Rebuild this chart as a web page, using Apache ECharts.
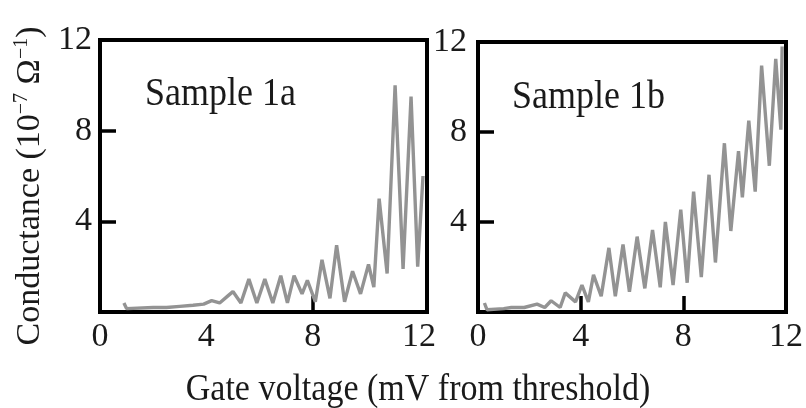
<!DOCTYPE html>
<html>
<head>
<meta charset="utf-8">
<script src="https://cdn.jsdelivr.net/npm/echarts@6/dist/echarts.min.js"></script>
<style>html,body{margin:0;padding:0;background:#fff}#c{width:806px;height:408px}</style>
</head>
<body>
<div id="c"></div>
<script>
// Sample 1a: gate voltage (mV), conductance (1e-7 S)
var gateA = [0.9,1.0,2.0,2.5,3.0,3.5,3.9,4.2,4.5,4.8,5.0,5.3,5.6,5.9,6.2,6.5,6.8,7.05,7.3,7.6,7.8,8.1,8.35,8.65,8.9,9.2,9.5,9.8,10.1,10.3,10.5,10.8,11.1,11.4,11.7,11.95,12.15];
var condA = [0.4,0.15,0.2,0.2,0.25,0.3,0.35,0.5,0.4,0.7,0.9,0.4,1.45,0.4,1.45,0.4,1.6,0.4,1.6,0.8,1.4,0.45,2.3,0.6,2.95,0.45,1.8,0.8,2.1,1.1,5.0,1.7,10.0,1.9,9.5,2.0,6.0];
// Sample 1b
var gateB = [0.25,0.35,1.0,1.3,1.8,2.3,2.6,2.85,3.2,3.4,3.8,4.05,4.3,4.5,4.8,5.1,5.35,5.65,5.9,6.2,6.5,6.8,7.1,7.3,7.6,7.9,8.15,8.4,8.7,9.0,9.25,9.6,9.85,10.15,10.3,10.55,10.8,11.05,11.35,11.6,11.8,11.85];
var condB = [0.4,0.1,0.15,0.2,0.2,0.35,0.2,0.5,0.2,0.85,0.45,1.2,0.45,1.65,0.7,2.85,0.7,3.0,0.9,3.35,1.05,3.65,1.1,4.0,1.2,4.55,1.3,5.35,1.55,6.1,2.2,7.5,3.6,7.15,5.1,8.5,5.35,10.95,6.5,11.25,8.1,11.8];
var xTickLabels = [0,4,8,12];
var yTickLabels = [4,8,12];
var labelA = 'Sample 1a';
var labelB = 'Sample 1b';
var xTitle = 'Gate voltage (mV from threshold)';

function pairs(xs, ys){ return xs.map(function(x,i){return [x, ys[i]];}); }

var FONT = 'Liberation Serif';
var TXT = '#1a1a1a';
var chart = echarts.init(document.getElementById('c'), null, {renderer:'canvas'});

function xAx(idx, max, step){
  return {
    gridIndex: idx, type: 'value', min: 0, max: max, interval: step,
    axisLine: {show:true, onZero:false, lineStyle:{color:'#000', width:4}},
    splitLine: {show:false},
    axisTick: {show:true, inside:true, length:16, lineStyle:{color:'#000', width:3.5}},
    axisLabel: {customValues: xTickLabels, fontFamily: FONT, fontSize: 34, color: TXT, margin: 8}
  };
}
function yAx(idx, margin){
  return {
    gridIndex: idx, type: 'value', min: 0, max: 12, interval: 4,
    axisLine: {show:true, onZero:false, lineStyle:{color:'#000', width:4}},
    splitLine: {show:false},
    axisTick: {show:true, inside:true, length:16, lineStyle:{color:'#000', width:3.5}},
    axisLabel: {customValues: yTickLabels, fontFamily: FONT, fontSize: 34, color: TXT, margin: margin}
  };
}

chart.setOption({
  backgroundColor: '#fff',
  animation: false,
  grid: [
    {left: 100, top: 40, width: 327, height: 272, show: true, borderColor: '#000', borderWidth: 4, backgroundColor: 'transparent'},
    {left: 478, top: 42, width: 312, height: 270, show: true, borderColor: '#000', borderWidth: 4, backgroundColor: 'transparent'}
  ],
  xAxis: [xAx(0, 12.3, 8), xAx(1, 12, 4)],
  yAxis: [yAx(0, 8), yAx(1, 11)],
  series: [
    {type:'line', xAxisIndex:0, yAxisIndex:0, data: pairs(gateA, condA), showSymbol:false, lineStyle:{color:'#939393', width:3.4}},
    {type:'line', xAxisIndex:1, yAxisIndex:1, data: pairs(gateB, condB), showSymbol:false, lineStyle:{color:'#939393', width:3.4}}
  ],
  graphic: [
    {type:'text', x: 145, y: 95, scaleY: 1.1, style:{text: labelA, font: '36px "Liberation Serif"', fill: TXT, textVerticalAlign:'middle'}},
    {type:'text', x: 512, y: 98, scaleY: 1.1, style:{text: labelB, font: '36px "Liberation Serif"', fill: TXT, textVerticalAlign:'middle'}},
    {type:'text', x: 418, y: 390, scaleY: 1.12, style:{text: xTitle, font: '34px "Liberation Serif"', fill: TXT, textAlign:'center', textVerticalAlign:'middle'}},
    {type:'text', x: 30, y: 186, rotation: Math.PI/2,
      style:{text: '{a|Conductance (10}{s|\u22127}{a| \u03A9}{s|\u22121}{a|)}', textAlign:'center', textVerticalAlign:'middle', fill: TXT,
        rich: {a:{fontFamily: FONT, fontSize: 34, color: TXT, lineHeight: 36},
               s:{fontFamily: FONT, fontSize: 20, color: TXT, lineHeight: 36, verticalAlign:'top', padding:[0,0,14,0]}}}}
  ]
});
</script>
</body>
</html>
